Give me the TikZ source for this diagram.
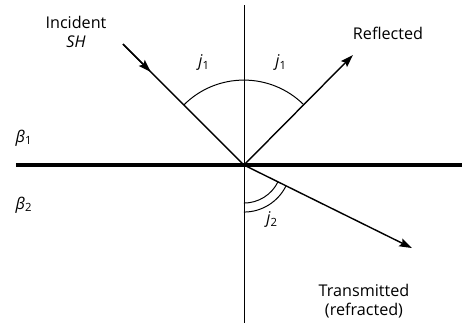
\documentclass[tikz,border=0pt]{standalone}
\usepackage{fontspec}
\setmainfont{Open Sans}
\usetikzlibrary{arrows.meta, calc}
\tikzset{
  every picture/.style={line width=0.7pt},
  ray/.style={line width=1pt},
  tip/.style={-{Stealth[length=9pt, width=6pt, inset=1.5pt]}, line width=1pt},
  interface/.style={line width=2.8pt},
  normal/.style={line width=0.6pt},
  angle/.style={line width=0.7pt},
  lbl/.style={align=center, inner sep=1pt, font=\fontsize{11.5}{13.5}\selectfont},
}

\begin{document}
\begin{tikzpicture}[scale=0.025]
  \useasboundingbox (0,0) rectangle (462,323);
  % incidence point and ray ends
  \coordinate (o) at (244,158);
  \coordinate (inc) at (123,279);
  \coordinate (refl) at (353,268);
  \coordinate (trans) at (412,75);
  \coordinate (ntop) at (244,318);
  \coordinate (nbot) at (244,0);
  \coordinate (il) at (16,158);
  \coordinate (ir) at (462,158);
  \coordinate (incmid) at ($(inc)!0.23!(o)$);
  % boundary and normal
  \draw[normal] (ntop) -- (nbot);
  \draw[interface] (il) -- (ir);
  % rays
  \draw[ray] (inc) -- (o);
  \draw[tip] (inc) -- (incmid);
  \draw[tip] (o) -- (refl);
  \draw[tip] (o) -- (trans);
  % angles
  \coordinate (a1) at ($(o)+(135:85)$);
  \draw[angle] (a1) arc[start angle=135, end angle=45, radius=85];
  \coordinate (a2) at ($(o)+(-90:38)$);
  \draw[angle] (a2) arc[start angle=-90, end angle=-26.3, radius=38];
  \coordinate (a3) at ($(o)+(-90:47)$);
  \draw[angle] (a3) arc[start angle=-90, end angle=-26.3, radius=47];
  % labels
  \node[lbl] (tinc) at (76,291) {Incident\\\textit{SH}};
  \node[lbl] (trefl) at (388,290) {Reflected};
  \node[lbl] (ttrans) at (364,22) {Transmitted\\(refracted)};
  \node[lbl] (tj1l) at (204,260) {\textit{j}\textsubscript{1}};
  \node[lbl] (tj1r) at (281,260) {\textit{j}\textsubscript{1}};
  \node[lbl] (tj2) at (272,103) {\textit{j}\textsubscript{2}};
  \node[lbl] (tb1) at (24,185) {\textit{β}\textsubscript{1}};
  \node[lbl] (tb2) at (24,118) {\textit{β}\textsubscript{2}};
\end{tikzpicture}
\end{document}
